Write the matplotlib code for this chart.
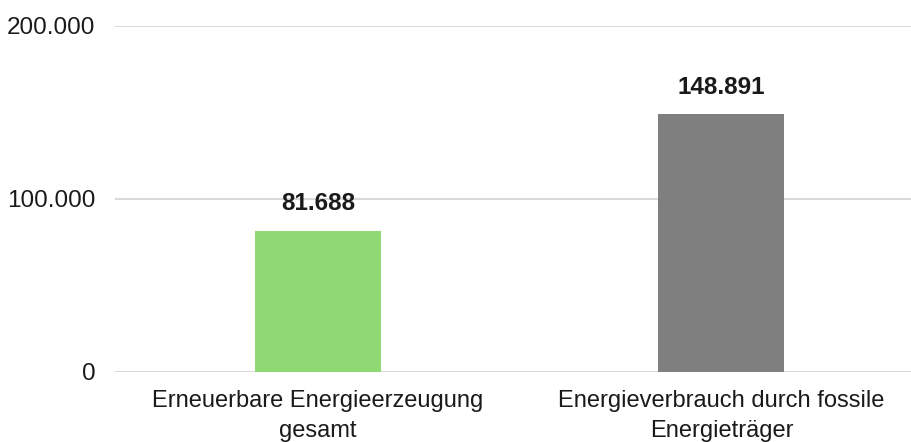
import matplotlib.pyplot as plt
from matplotlib.ticker import FuncFormatter

# Data
categories = ['Erneuerbare Energieerzeugung\ngesamt', 'Energieverbrauch durch fossile\nEnergieträger']
values = [81688, 148891]
colors = ['#8fd974', '#7f7f7f']
yticks = [0, 100000, 200000]

plt.rcParams['font.family'] = ['Liberation Sans', 'DejaVu Sans']

fig = plt.figure(figsize=(9.11, 4.42), dpi=100)
ax = fig.add_axes([115 / 911, 70 / 442, 796 / 911, 346 / 442])

x = range(len(categories))
bars = ax.bar(x, values, width=0.312, color=colors, zorder=3)

def de_fmt(v, pos=None):
    return f'{v:,.0f}'.replace(',', '.')

for b, v in zip(bars, values):
    ax.annotate(de_fmt(v), (b.get_x() + b.get_width() / 2, v),
                xytext=(0, 11), textcoords='offset points',
                ha='center', va='bottom', fontsize=17.5, fontweight='bold', color='#1a1a1a')

ax.set_xlim(-0.503, 1.47)
ax.set_ylim(0, 200000)
ax.set_yticks(yticks)
ax.yaxis.set_major_formatter(FuncFormatter(de_fmt))
ax.set_xticks(list(x))
ax.set_xticklabels(categories, fontsize=17, color='#1a1a1a', linespacing=1.45)
ax.tick_params(axis='y', labelsize=17.5, labelcolor='#1a1a1a', length=0, pad=14)
ax.tick_params(axis='x', length=0, pad=13)
ax.grid(axis='y', color='#d9d9d9', linewidth=1.5, zorder=0)
for s in ['top', 'right', 'left', 'bottom']:
    ax.spines[s].set_visible(False)

fig.savefig('out.png', dpi=100)
